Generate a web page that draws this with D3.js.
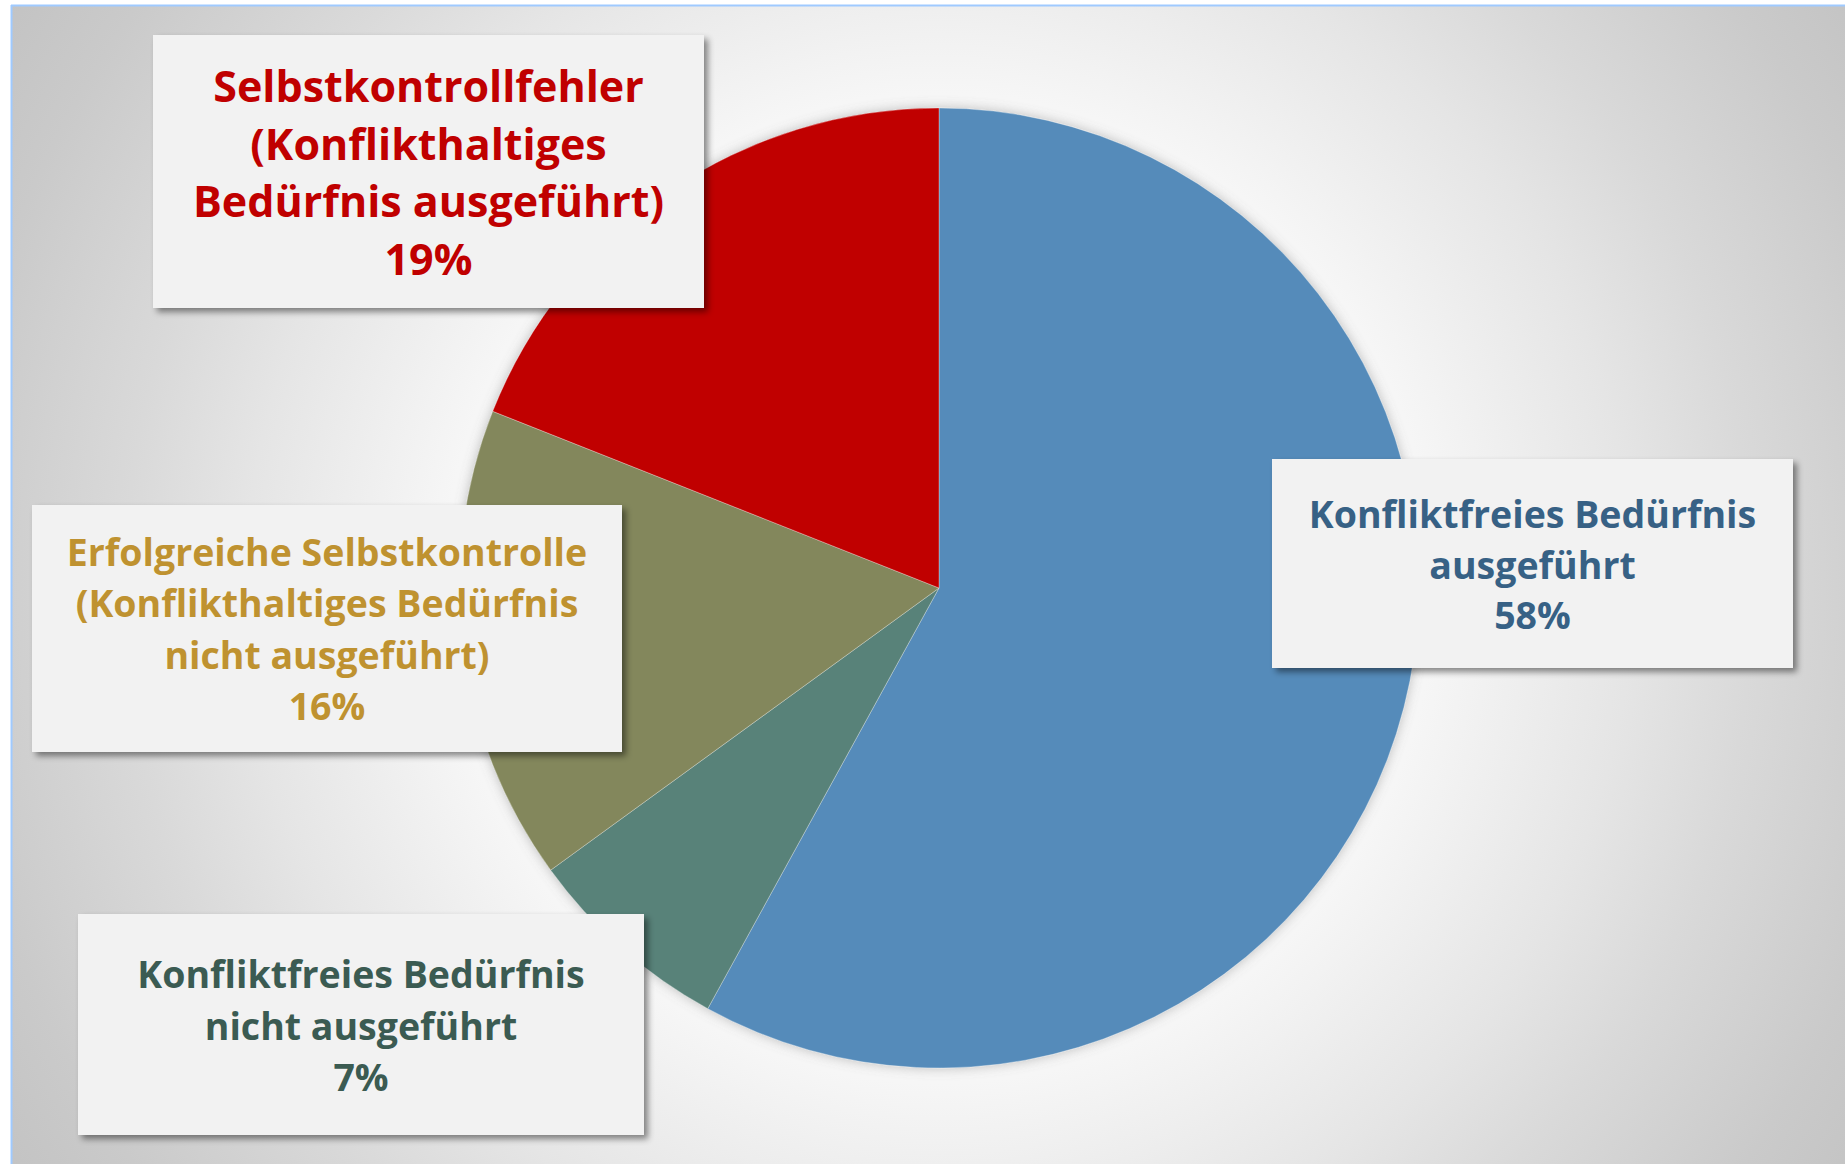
<!DOCTYPE html>
<html lang="de">
<head>
<meta charset="utf-8">
<title>Selbstkontrolle – Anteile</title>
<script src="https://cdn.jsdelivr.net/npm/d3@7"></script>
<style>
  html, body { margin: 0; padding: 0; background: #ffffff; }
  svg { display: block; }
  text { font-family: "Open Sans", "Noto Sans", sans-serif; font-weight: 700; }
</style>
</head>
<body>
<script>
// Kategorien und Anteile (%) in Zeichenreihenfolge, im Uhrzeigersinn ab 12 Uhr
const categories = [
  "Konfliktfreies Bedürfnis ausgeführt",
  "Konfliktfreies Bedürfnis nicht ausgeführt",
  "Erfolgreiche Selbstkontrolle (Konflikthaltiges Bedürfnis nicht ausgeführt)",
  "Selbstkontrollfehler (Konflikthaltiges Bedürfnis ausgeführt)"
];
const values = [58, 7, 16, 19];

// Zeilenumbrüche der Beschriftungen
const labelLines = [
  ["Konfliktfreies Bedürfnis", "ausgeführt"],
  ["Konfliktfreies Bedürfnis", "nicht ausgeführt"],
  ["Erfolgreiche Selbstkontrolle", "(Konflikthaltiges Bedürfnis", "nicht ausgeführt)"],
  ["Selbstkontrollfehler", "(Konflikthaltiges", "Bedürfnis ausgeführt)"]
];

const W = 1845, H = 1164;
const cx = 939, cy = 588, R = 480;

const sliceColor = d3.scaleOrdinal()
  .domain(categories)
  .range(["#548bba", "#588279", "#83875b", "#c00000"]);
const textColor = d3.scaleOrdinal()
  .domain(categories)
  .range(["#376185", "#3b5b52", "#bf9230", "#c00000"]);

// Lage der Beschriftungskästen
const boxes = [
  { x: 1272, y: 459, w: 521, h: 209, fs: 37.5, lh: 50.7, first: 528 },
  { x: 78,   y: 914, w: 566, h: 221, fs: 37.5, lh: 51.5, first: 988 },
  { x: 32,   y: 505, w: 590, h: 247, fs: 37.5, lh: 51.3, first: 566 },
  { x: 153,  y: 35,  w: 551, h: 273, fs: 43,   lh: 57.7, first: 102 }
];

const svg = d3.select("body").append("svg")
  .attr("width", W).attr("height", H);

const defs = svg.append("defs");

const bg = defs.append("radialGradient")
  .attr("id", "bgGrad")
  .attr("gradientUnits", "userSpaceOnUse")
  .attr("cx", cx).attr("cy", cy).attr("r", 1100);
[[0, "#fbfbfb"], [0.45, "#f6f6f6"], [0.63, "#e5e5e5"], [0.74, "#d9d9d9"],
 [0.9, "#cacaca"], [1, "#c3c3c3"]].forEach(([o, c]) =>
  bg.append("stop").attr("offset", o).attr("stop-color", c));

const pieGlow = defs.append("filter").attr("id", "pieGlow")
  .attr("x", "-10%").attr("y", "-10%").attr("width", "120%").attr("height", "120%");
pieGlow.append("feDropShadow")
  .attr("dx", 0).attr("dy", 0).attr("stdDeviation", 6)
  .attr("flood-color", "#777").attr("flood-opacity", 0.45);

const boxShadow = defs.append("filter").attr("id", "boxShadow")
  .attr("x", "-5%").attr("y", "-5%").attr("width", "115%").attr("height", "120%");
boxShadow.append("feDropShadow")
  .attr("dx", 4).attr("dy", 4).attr("stdDeviation", 3)
  .attr("flood-color", "#000").attr("flood-opacity", 0.45);

// Hintergrundfläche mit hellblauem Rand oben und links
svg.append("rect")
  .attr("x", 12).attr("y", 6).attr("width", W - 12).attr("height", H - 6)
  .attr("fill", "url(#bgGrad)");
svg.append("line").attr("x1", 11).attr("x2", W).attr("y1", 5.5).attr("y2", 5.5)
  .attr("stroke", "#9fcaff").attr("stroke-width", 2);
svg.append("line").attr("x1", 11.5).attr("x2", 11.5).attr("y1", 5).attr("y2", H)
  .attr("stroke", "#9fcaff").attr("stroke-width", 2);

// Kreisdiagramm
const pie = d3.pie().sort(null).value(d => d.value)
  .startAngle(0).endAngle(2 * Math.PI);
const arc = d3.arc().innerRadius(0).outerRadius(R);

const data = categories.map((c, i) => ({ name: c, value: values[i], lines: labelLines[i], box: boxes[i] }));
const arcs = pie(data);

const g = svg.append("g")
  .attr("transform", `translate(${cx},${cy})`)
  .attr("filter", "url(#pieGlow)");
g.selectAll("path.slice")
  .data(arcs)
  .join("path")
  .attr("class", "slice")
  .attr("d", arc)
  .attr("fill", d => sliceColor(d.data.name))
  .attr("stroke", "rgba(255,255,255,0.3)")
  .attr("stroke-width", 1);

// Beschriftungskästen
const labels = svg.selectAll("g.label")
  .data(data)
  .join("g")
  .attr("class", "label");

labels.append("rect")
  .attr("x", d => d.box.x).attr("y", d => d.box.y)
  .attr("width", d => d.box.w).attr("height", d => d.box.h)
  .attr("fill", "#f2f2f2")
  .attr("filter", "url(#boxShadow)");

labels.each(function (d) {
  const lines = d.lines.concat([d3.format(".0f")(d.value) + "%"]);
  const t = d3.select(this).append("text")
    .attr("text-anchor", "middle")
    .attr("fill", textColor(d.name))
    .attr("font-size", d.box.fs);
  lines.forEach((ln, i) => {
    t.append("tspan")
      .attr("x", d.box.x + d.box.w / 2)
      .attr("y", d.box.first + i * d.box.lh)
      .text(ln);
  });
});
</script>
</body>
</html>
